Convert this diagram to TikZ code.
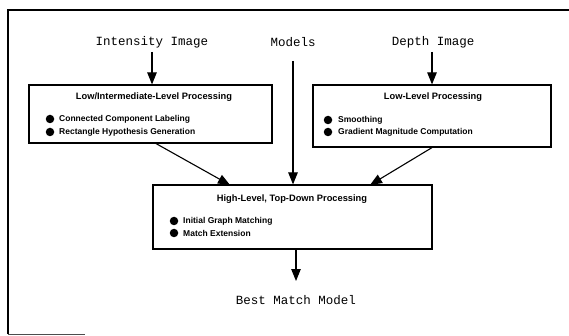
\documentclass[tikz,border=0pt]{standalone}
\usepackage{fontspec}
\setmainfont{Liberation Sans}
\newfontfamily\labelfont{Liberation Mono}
\usetikzlibrary{arrows.meta}
\tikzset{
  x=1pt, y=-1pt,
  frame/.style={line width=1.1pt},
  procbox/.style={draw, line width=1.2pt, fill=white},
  flow/.style={line width=1.1pt, -{Triangle[width=9.5pt,length=12pt]}},
  inlabel/.style={font=\labelfont\fontsize{12.5}{14}\selectfont, inner sep=0pt},
  boxtitle/.style={font=\bfseries\fontsize{9.3}{11}\selectfont, inner sep=0pt},
  item/.style={font=\bfseries\fontsize{8.5}{10}\selectfont, inner sep=0pt, anchor=west},
  dot/.style={circle, fill=black, inner sep=0pt, minimum size=8.5pt},
}
\begin{document}
\begin{tikzpicture}
\useasboundingbox (0,0) rectangle (569,336);

% outer frame
\draw[frame] (8,334) -- (8,10) -- (569,10);
\draw[line width=0.8pt, black!70] (8,334) -- (85,334);

% inputs
\node[inlabel] (intensity) at (152,42) {Intensity Image};
\node[inlabel] (models) at (293,42) {Models};
\node[inlabel] (depth) at (433,42) {Depth Image};

% low / intermediate level box
\node[procbox, minimum width=243pt, minimum height=58pt] (lowint) at (150.5,114) {};
\node[boxtitle] (lowintT) at (154,97) {Low/Intermediate-Level Processing};
\node[dot] (b1) at (50,119) {};
\node[item] (t1) at (59,119) {Connected Component Labeling};
\node[dot] (b2) at (50,132) {};
\node[item] (t2) at (59,132) {Rectangle Hypothesis Generation};

% low level box
\node[procbox, minimum width=238pt, minimum height=62pt] (low) at (432,116) {};
\node[boxtitle] (lowT) at (433,97) {Low-Level Processing};
\node[dot] (b3) at (328,120) {};
\node[item] (t3) at (338,120) {Smoothing};
\node[dot] (b4) at (328,132) {};
\node[item] (t4) at (338,132) {Gradient Magnitude Computation};

% high level box
\node[procbox, minimum width=279pt, minimum height=64pt] (high) at (292.5,217) {};
\node[boxtitle] (highT) at (292,199) {High-Level, Top-Down Processing};
\node[dot] (b5) at (174,221) {};
\node[item] (t5) at (183,221) {Initial Graph Matching};
\node[dot] (b6) at (174,233) {};
\node[item] (t6) at (183,233) {Match Extension};

% output
\node[inlabel] (best) at (296,300) {Best Match Model};

% connectors
\coordinate (iA) at (152,52);
\coordinate (mA) at (293,61);
\coordinate (dA) at (432,52);
\draw[flow] (iA) -- (iA |- lowint.north);
\draw[flow] (dA) -- (dA |- low.north);
\draw[flow] (mA) -- (mA |- high.north);
\coordinate (lS) at (155,143);
\coordinate (lE) at (230,185);
\coordinate (rS) at (433,147);
\coordinate (rE) at (370,185);
\draw[flow] (lS) -- (lE);
\draw[flow] (rS) -- (rE);
\coordinate (oS) at (296,249);
\coordinate (oE) at (296,281);
\draw[flow] (oS) -- (oE);
\end{tikzpicture}
\end{document}
